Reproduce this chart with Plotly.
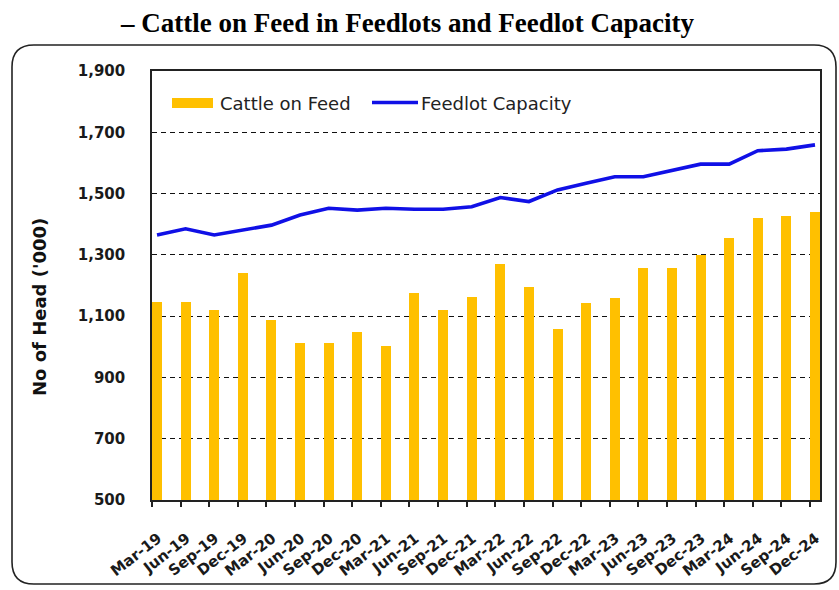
import numpy as np
import plotly.graph_objects as go

# Quarterly periods
quarters = ["Mar-19", "Jun-19", "Sep-19", "Dec-19", "Mar-20", "Jun-20", "Sep-20", "Dec-20",
            "Mar-21", "Jun-21", "Sep-21", "Dec-21", "Mar-22", "Jun-22", "Sep-22", "Dec-22",
            "Mar-23", "Jun-23", "Sep-23", "Dec-23", "Mar-24", "Jun-24", "Sep-24", "Dec-24"]

# Head ('000)
cattle_on_feed = [1145, 1147, 1120, 1240, 1087, 1011, 1011, 1049, 1004, 1175, 1120, 1161,
                  1270, 1196, 1057, 1144, 1159, 1257, 1258, 1298, 1356, 1419, 1427, 1441]
feedlot_capacity = [1365, 1385, 1365, 1380, 1397, 1430, 1452, 1446, 1452, 1449, 1449, 1457,
                    1487, 1474, 1512, 1534, 1555, 1555, 1577, 1596, 1596, 1640, 1645, 1659]

y_ticks = [500, 700, 900, 1100, 1300, 1500, 1700, 1900]

W, H = 839, 590
ML, MR, MT, MB = 152, 19, 71, 90
PW, PH = W - ML - MR, H - MT - MB

BAR_COLOR = "#FFC000"
LINE_COLOR = "#1010E6"
BAR_W = 0.35


def px_x(px):
    return (px - ML) / PW


def px_y(py):
    return (H - MB - py) / PH


x = np.arange(len(quarters))

fig = go.Figure()
fig.add_trace(go.Bar(x=x, y=cattle_on_feed, width=BAR_W, marker_color=BAR_COLOR,
                     marker_line_width=0, name="Cattle on Feed"))
fig.add_trace(go.Scatter(x=x, y=feedlot_capacity, mode="lines",
                         line=dict(color=LINE_COLOR, width=3.6), name="Feedlot Capacity"))

fig.update_xaxes(
    range=[-BAR_W / 2, len(quarters) - 1 + BAR_W / 2],
    tickmode="array", tickvals=x - BAR_W / 2, ticktext=quarters,
    tickangle=-38, ticklabelstandoff=17, ticklabelshift=6,
    tickfont=dict(family="DejaVu Sans", size=15, color="#1a1a1a", weight="bold"),
    ticks="outside", ticklen=5, tickwidth=1.5, tickcolor="#222",
    showline=True, linecolor="#222", linewidth=1.6, mirror=True,
    showgrid=False, zeroline=False, automargin=False,
)
fig.update_yaxes(
    range=[500, 1900], tickmode="array", tickvals=y_ticks,
    ticktext=[f"{v:,}" for v in y_ticks],
    tickfont=dict(family="DejaVu Sans", size=15, color="#1a1a1a", weight="bold"),
    ticklabelstandoff=22,
    showline=True, linecolor="#222", linewidth=1.5, mirror=True,
    showgrid=True, gridcolor="#111", gridwidth=1.3, griddash="5px,4px",
    zeroline=False, automargin=False,
)

# Rounded frame around the whole chart
r = 22
x0, x1, y0, y1 = 12, 836, 45, 584
def P(px, py):
    return f"{px_x(px):.5f},{px_y(py):.5f}"
frame = (f"M {P(x0 + r, y0)} L {P(x1 - r, y0)} Q {P(x1, y0)} {P(x1, y0 + r)} "
         f"L {P(x1, y1 - r)} Q {P(x1, y1)} {P(x1 - r, y1)} "
         f"L {P(x0 + r, y1)} Q {P(x0, y1)} {P(x0, y1 - r)} "
         f"L {P(x0, y0 + r)} Q {P(x0, y0)} {P(x0 + r, y0)} Z")

shapes = [
    dict(type="path", xref="paper", yref="paper", path=frame,
         line=dict(color="#222", width=1.6), fillcolor="rgba(0,0,0,0)", layer="above"),
    # legend swatches
    dict(type="rect", xref="paper", yref="paper",
         x0=px_x(172), x1=px_x(213), y0=px_y(108), y1=px_y(98),
         fillcolor=BAR_COLOR, line_width=0),
    dict(type="line", xref="paper", yref="paper",
         x0=px_x(372), x1=px_x(418), y0=px_y(102.5), y1=px_y(102.5),
         line=dict(color=LINE_COLOR, width=3.6)),
]

legend_font = dict(family="DejaVu Sans", size=18, color="#222")
annotations = [
    dict(text="Cattle on Feed", xref="paper", yref="paper", x=px_x(218), y=px_y(103),
         xanchor="left", yanchor="middle", showarrow=False, font=legend_font),
    dict(text="Feedlot Capacity", xref="paper", yref="paper", x=px_x(419), y=px_y(103),
         xanchor="left", yanchor="middle", showarrow=False, font=legend_font),
    dict(text="No of Head ('000)", xref="paper", yref="paper", x=px_x(39), y=px_y(307),
         xanchor="center", yanchor="middle", textangle=-90, showarrow=False,
         font=dict(family="DejaVu Sans", size=18, color="#111", weight="bold")),
    dict(text="– Cattle on Feed in Feedlots and Feedlot Capacity", xref="paper", yref="paper",
         x=px_x(407), y=px_y(23), xanchor="center", yanchor="middle", showarrow=False,
         font=dict(family="Liberation Serif", size=27, color="#000", weight="bold")),
]

fig.update_layout(
    width=W, height=H,
    margin=dict(l=ML, r=MR, t=MT, b=MB),
    paper_bgcolor="white", plot_bgcolor="white",
    showlegend=False, bargap=0,
    shapes=shapes, annotations=annotations,
)

fig.write_html("out.html")
